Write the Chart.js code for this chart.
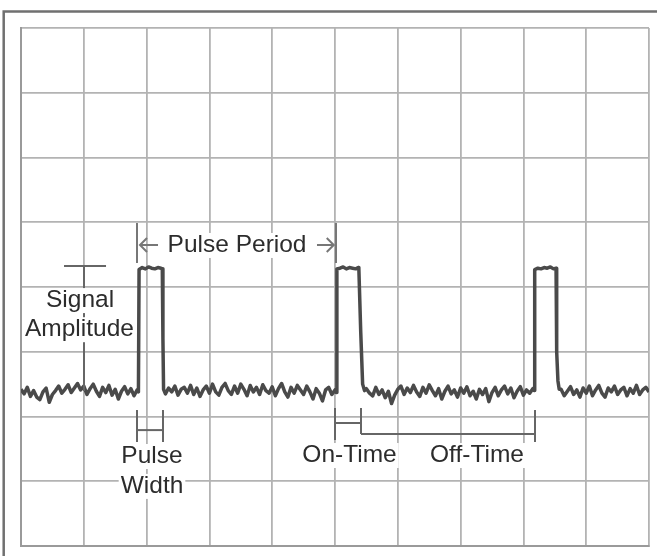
<!DOCTYPE html>
<html><head><meta charset="utf-8">
<script src="https://cdn.jsdelivr.net/npm/chart.js@4.4.0/dist/chart.umd.min.js"></script>
<style>html,body{margin:0;padding:0;background:#fff;}</style>
</head><body>
<canvas id="c" width="657" height="556"></canvas>
<script>
// ---- data (oscilloscope trace, in divisions) ----
const sampleStep = 0.05;
const noise1Start = 0.00;
const noise1 = [2.42,2.35,2.45,2.31,2.40,2.30,2.26,2.38,2.44,2.22,2.34,2.40,2.47,2.36,2.42,2.49,2.37,2.44,2.51,2.41,2.47,2.34,2.43,2.50,2.39,2.31,2.45,2.37,2.48,2.33,2.42,2.27,2.39,2.46,2.35,2.43,2.32,2.41];
const pulse1T = [1.87,1.88,1.93,1.98,2.03,2.08,2.13,2.18,2.23,2.25,2.26,2.27];
const pulse1V = [2.38,4.27,4.30,4.28,4.31,4.29,4.28,4.30,4.29,4.28,3.20,2.42];
const noise2Start = 2.30;
const noise2 = [2.35,2.44,2.38,2.47,2.33,2.42,2.45,2.36,2.48,2.34,2.44,2.31,2.41,2.47,2.36,2.50,2.38,2.33,2.45,2.51,2.40,2.34,2.47,2.36,2.50,2.42,2.32,2.48,2.38,2.45,2.34,2.49,2.40,2.36,2.46,2.32,2.43,2.51,2.38,2.30,2.45,2.36,2.48,2.41,2.34,2.47,2.38,2.27,2.43,2.36,2.24,2.41,2.45,2.34,2.41];
const pulse2T = [5.02,5.03,5.08,5.13,5.18,5.23,5.28,5.33,5.37,5.38,5.41,5.44,5.47];
const pulse2V = [2.37,4.28,4.29,4.31,4.28,4.30,4.29,4.28,4.30,4.28,3.30,2.50,2.40];
const noise3Start = 5.50;
const noise3 = [2.43,2.36,2.32,2.45,2.34,2.41,2.29,2.39,2.20,2.33,2.42,2.47,2.34,2.44,2.37,2.48,2.38,2.31,2.45,2.36,2.49,2.40,2.32,2.43,2.27,2.39,2.47,2.35,2.41,2.30,2.44,2.36,2.46,2.32,2.39,2.27,2.42,2.34,2.43,2.23,2.37,2.45,2.32,2.41,2.47,2.35,2.44,2.29,2.39,2.46,2.33,2.41,2.36,2.43];
const pulse3T = [8.17,8.18,8.23,8.28,8.33,8.38,8.43,8.48,8.52,8.53,8.55,8.57];
const pulse3V = [2.40,4.27,4.29,4.28,4.30,4.29,4.31,4.28,4.29,3.00,2.55,2.42];
const noise4Start = 8.60;
const noise4 = [2.42,2.32,2.39,2.46,2.34,2.41,2.30,2.44,2.36,2.47,2.32,2.41,2.48,2.36,2.30,2.44,2.38,2.47,2.34,2.41,2.45,2.32,2.43,2.36,2.48,2.34,2.41,2.45,2.38];
const xTicks = [0,1,2,3,4,5,6,7,8,9,10];
const yTicks = [0,1,2,3,4,5,6,7,8];

// ---- build points ----
const pts = [];
function addNoise(start, arr){ arr.forEach((v,i)=>pts.push({x:+(start+i*sampleStep).toFixed(3), y:v})); }
function addPulse(ts, vs){ ts.forEach((t,i)=>pts.push({x:t, y:vs[i]})); }
addNoise(noise1Start, noise1); addPulse(pulse1T, pulse1V);
addNoise(noise2Start, noise2); addPulse(pulse2T, pulse2V);
addNoise(noise3Start, noise3); addPulse(pulse3T, pulse3V);
addNoise(noise4Start, noise4);

const FONT = '24.5px "Liberation Sans", Arial, sans-serif';

const frame = {
  id:'frame',
  beforeDraw(chart){
    const ctx = chart.ctx;
    ctx.save();
    ctx.fillStyle = '#fff';
    ctx.fillRect(0,0,chart.width,chart.height);
    ctx.strokeStyle = '#707070';
    ctx.lineWidth = 2.5;
    ctx.beginPath();
    ctx.moveTo(3.7, 556); ctx.lineTo(3.7, 11.5); ctx.lineTo(657, 11.5);
    ctx.stroke();
    ctx.restore();
  }
};

const annot = {
  id:'annot',
  afterDatasetsDraw(chart){
    const {ctx, scales:{x, y}} = chart;
    const X = v => x.getPixelForValue(v), Y = v => y.getPixelForValue(v);
    ctx.save();
    const line = (x1,y1,x2,y2) => { ctx.beginPath(); ctx.moveTo(X(x1),Y(y1)); ctx.lineTo(X(x2),Y(y2)); ctx.stroke(); };
    const label = (txt, cx, by) => {
      ctx.font = FONT;
      const w = ctx.measureText(txt).width;
      const px = X(cx), py = Y(by);
      ctx.fillStyle = '#fff';
      ctx.fillRect(px - w/2 - 2, py - 19, w + 4, 25);
      ctx.fillStyle = '#2c2c2c';
      ctx.textAlign = 'center';
      ctx.textBaseline = 'alphabetic';
      ctx.fillText(txt, px, py);
    };
    ctx.lineCap = 'butt';
    ctx.strokeStyle = '#666';
    ctx.lineWidth = 2;
    // Signal amplitude
    line(1.003, 4.324, 1.003, 2.394);
    line(0.685, 4.324, 1.354, 4.324);
    label('Signal', 0.94, 3.69);
    label('Amplitude', 0.93, 3.24);
    // Pulse period
    ctx.strokeStyle = '#777';
    line(1.847, 4.988, 1.847, 4.371);
    line(5.016, 4.988, 5.016, 4.371);
    const ay = Y(4.649);
    const lx1 = X(1.895), lx2 = X(2.182);
    ctx.beginPath(); ctx.moveTo(lx2, ay); ctx.lineTo(lx1, ay);
    ctx.moveTo(lx1 + 7, ay - 7); ctx.lineTo(lx1, ay); ctx.lineTo(lx1 + 7, ay + 7); ctx.stroke();
    const rx1 = X(4.713), rx2 = X(4.98);
    ctx.beginPath(); ctx.moveTo(rx1, ay); ctx.lineTo(rx2, ay);
    ctx.moveTo(rx2 - 7, ay - 7); ctx.lineTo(rx2, ay); ctx.lineTo(rx2 - 7, ay + 7); ctx.stroke();
    label('Pulse Period', 3.44, 4.541);
    // Pulse width
    ctx.strokeStyle = '#666';
    line(1.847, 2.10, 1.847, 1.606);
    line(2.261, 2.10, 2.261, 1.606);
    line(1.847, 1.79, 2.261, 1.79);
    label('Pulse', 2.086, 1.282);
    label('Width', 2.086, 0.82);
    // On-time / Off-time
    line(5.0, 2.131, 5.0, 1.637);
    line(5.414, 2.131, 5.414, 1.73);
    line(5.0, 1.90, 5.414, 1.90);
    line(5.414, 1.73, 8.185, 1.73);
    line(8.185, 2.10, 8.185, 1.606);
    label('On-Time', 5.231, 1.297);
    label('Off-Time', 7.261, 1.297);
    ctx.restore();
  }
};

new Chart(document.getElementById('c'), {
  type: 'line',
  data: { datasets: [{
    data: pts,
    borderColor: '#4a4a4a',
    borderWidth: 3.5,
    pointRadius: 0,
    tension: 0,
    borderJoinStyle: 'round'
  }]},
  options: {
    responsive: false,
    animation: false,
    devicePixelRatio: 1,
    layout: { padding: { left: 21, top: 28, right: 8, bottom: 10 } },
    plugins: { legend: { display: false }, tooltip: { enabled: false } },
    scales: {
      x: {
        type: 'linear', min: 0, max: 10,
        afterBuildTicks: s => { s.ticks = xTicks.map(v => ({value: v})); },
        ticks: { display: false },
        grid: { color: '#b3b3b3', lineWidth: 1.8, drawTicks: false },
        border: { color: '#9a9a9a', width: 2 }
      },
      y: {
        type: 'linear', min: 0, max: 8,
        afterBuildTicks: s => { s.ticks = yTicks.map(v => ({value: v})); },
        ticks: { display: false },
        grid: { color: '#b3b3b3', lineWidth: 1.8, drawTicks: false },
        border: { color: '#9a9a9a', width: 2 }
      }
    }
  },
  plugins: [frame, annot]
});
</script>
</body></html>
